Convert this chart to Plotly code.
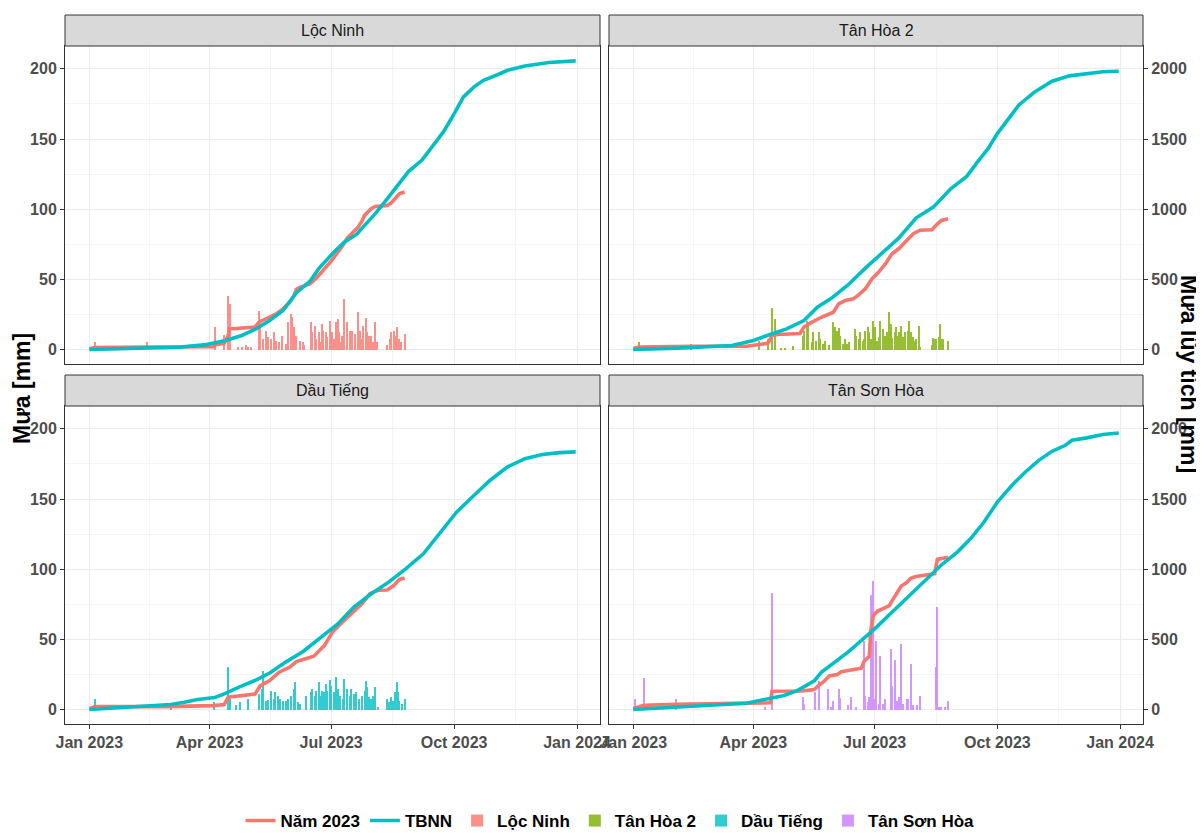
import pandas as pd
import plotly.graph_objects as go

BASE = pd.Timestamp("2023-01-01")

stations = ["Lộc Ninh", "Tân Hòa 2", "Dầu Tiếng", "Tân Sơn Hòa"]
station_colors = ["#F8766D", "#7CAE00", "#00BFC4", "#C77CFF"]
line_names = ["Năm 2023", "TBNN"]
line_colors = ["#F8766D", "#00BFC4"]

# ---- daily rainfall 2023 (day of year from 1 Jan, mm) ----
loc_ninh_rain = [(4,5.7),(43,5.2),(94,16),(101,10.5),(104,38),(105,32.6),(111,1.7),(114,1.7),(117,2.9),(119,1.7),
                 (121,1.7),(127,27.8),(128,20.7),(130,7.6),(132,13.5),(134,8.8),(136,7.6),(138,12.4),(140,6.4),(142,5.2),
                 (144,10),(147,4),(149,19.5),(151,25.4),(152,23),(153,16),(155,10),(158,6.4),(160,5.2),(161,2.9),
                 (166,19.5),(167,12.4),(169,17),(170,7.6),(172,12.4),(173,5.2),(174,18.3),(175,13.5),(177,12.4),(178,8.8),
                 (180,20.7),(182,12.4),(183,7.6),(185,19.5),(186,21.9),(187,12.4),(188,5.2),(189,10),(191,36.1),(193,19.5),
                 (195,13.5),(196,10),(197,13.5),(199,11.2),(201,26.6),(203,13.5),(204,7.6),(205,17),(207,22.4),(208,12.4),
                 (209,10),(210,7.6),(211,10),(212,5.2),(214,19.5),(215,5.2),(223,2.9),(225,7.6),(226,12.4),(228,13.5),
                 (229,10),(230,16),(232,7.6),(233,5.2),(236,11)]
tan_hoa_rain = [(4,5.7),(43,4),(94,6.4),(101,7.6),(104,29.5),(106,21.9),(111,1),(114,1),(120,2.4),(127,10),
                (128,13.5),(130,20.7),(131,19.5),(134,5.2),(135,12.4),(137,6.4),(139,12.8),(140,7.6),(142,4),(144,6.4),
                (147,2.9),(150,19.5),(151,16),(153,13.5),(154,15.2),(155,10),(157,4),(159,7.6),(160,4),(162,5.2),
                (166,14.7),(167,10),(169,7.6),(170,12.4),(172,6.4),(173,7.6),(174,13.5),(176,16),(177,12.4),(178,7.6),
                (180,20),(181,16),(183,6.4),(184,8.8),(185,20.7),(187,14.7),(188,7.6),(189,10),(190,12.4),(192,26.6),
                (193,18.3),(194,8),(196,12.4),(197,16),(198,10),(199,12.4),(201,17),(202,8.8),(204,12.4),(206,13.5),
                (207,20.7),(208,12.4),(210,8.8),(211,6.4),(212,7.6),(214,17),(215,1.7),(224,2.9),(225,8),(226,7.6),
                (227,7.6),(229,8.8),(230,18.3),(231,7.6),(232,7.6),(236,6.4)]
dau_tieng_rain = [(4,7.6),(6,3.3),(61,1.7),(93,5.2),(104,30.2),(105,7.6),(110,2.9),(113,5.2),(119,7.6),(127,11.2),
                  (129,14.7),(130,27.8),(132,6.4),(134,7.1),(136,13.5),(138,7.6),(139,12.4),(141,10),(143,7.6),(145,6.4),
                  (147,6.4),(149,7.6),(151,10),(153,14.7),(154,19.5),(156,5.2),(158,4),(162,10),(166,12.4),(167,14.7),
                  (169,10),(170,13.5),(172,19.5),(173,10),(174,13.5),(176,12.4),(177,18.3),(178,13.5),(180,21.4),(181,17),
                  (183,12.4),(185,23),(186,14.7),(188,10),(190,7.6),(191,21.9),(193,14.7),(195,10),(196,14.7),(198,11.2),
                  (200,12.4),(202,7.6),(204,10),(206,13.5),(207,20),(208,16),(209,8.8),(211,7.6),(212,10),(214,16),
                  (216,1.7),(223,7.6),(224,5.2),(226,8.8),(227,6.4),(229,12.4),(230,19.5),(231,12.4),(232,6.4),(234,4),
                  (236,7.6)]
tan_son_hoa_rain = [(1,7.6),(8,22.4),(32,7.6),(99,1.7),(104,83.2),(127,8.8),(128,4),(136,12.4),(139,20.7),(146,14.7),
                    (148,1.7),(150,6.4),(154,14.3),(155,8),(161,2.9),(163,8.8),(167,1.7),(173,49.2),(174,10),(176,5.2),
                    (177,8.8),(178,81.3),(180,91.3),(181,7.6),(182,48.8),(184,4),(185,38),(187,4),(189,7.6),(193,43.3),
                    (194,16.6),(196,35),(198,6.4),(199,8.8),(201,46.8),(202,4),(205,7.6),(206,7.6),(208,32.6),(210,2.9),
                    (213,2.9),(215,9.3),(227,30.2),(228,73),(229,1.7),(231,1.7),(234,1.7),(236,6.4)]

# ---- cumulative rainfall 2023 (day, mm) ----
loc_ninh_2023 = [(0,5),(4,15),(43,18),(93,20),(94,32),(101,45),(104,100),(105,148),(110,150),(124,160),(127,195),
                 (130,210),(135,230),(140,255),(145,290),(150,338),(153,380),(155,430),(158,445),(162,455),(165,468),
                 (170,510),(176,575),(181,630),(186,694),(190,745),(193,794),(197,830),(201,870),(204,915),(206,956),
                 (209,985),(211,1004),(214,1020),(216,1023),(223,1027),(226,1045),(228,1068),(230,1090),(232,1110),(236,1122)]
tan_hoa_2023 = [(0,5),(4,17),(43,24),(85,24),(92,33),(95,38),(101,45),(104,100),(108,107),(125,114),(128,160),
                (133,190),(141,230),(150,266),(154,326),(159,350),(165,361),(169,390),(174,433),(179,504),(184,552),
                (189,610),(194,683),(199,718),(204,766),(210,825),(215,850),(224,854),(227,885),(231,920),(236,932)]
dau_tieng_2023 = [(0,5),(4,21),(58,21),(93,28),(101,36),(104,88),(124,110),(128,170),(135,207),(142,266),(150,302),
                  (155,342),(160,357),(168,380),(176,457),(182,552),(188,610),(196,683),(204,754),(210,825),(216,850),
                  (223,852),(228,885),(232,927),(236,937)]
tan_son_hoa_2023 = [(0,7),(8,30),(32,38),(98,45),(103,48),(104,130),(126,132),(134,140),(136,145),(139,172),(143,200),
                    (147,240),(153,250),(156,270),(164,285),(171,295),(173,342),(177,380),(178,560),(180,670),(183,700),
                    (186,715),(192,740),(194,775),(197,820),(201,880),(205,905),(208,935),(212,948),(226,968),(228,1070),
                    (236,1085)]

# ---- long-term mean cumulative rainfall TBNN (day, mm) ----
loc_ninh_tbnn = [(0,0),(33,10),(68,17),(86,33),(102,64),(114,100),(124,143),(135,207),(145,278),(155,405),(165,485),
                 (172,580),(178,645),(183,694),(191,766),(200,820),(206,885),(214,968),(221,1051),(229,1146),(234,1206),
                 (239,1270),(249,1350),(257,1455),(265,1551),(271,1646),(275,1717),(280,1800),(288,1872),(295,1919),
                 (306,1960),(313,1990),(326,2021),(344,2045),(364,2057)]
tan_hoa_tbnn = [(0,0),(34,10),(74,29),(90,64),(102,105),(115,147),(128,207),(138,302),(148,361),(161,460),(174,580),
                (187,690),(199,794),(212,937),(225,1015),(238,1146),(250,1234),(258,1336),(266,1431),(273,1539),
                (281,1641),(289,1741),(301,1836),(314,1912),(327,1950),(340,1967),(352,1979),(364,1983)]
dau_tieng_tbnn = [(0,0),(33,17),(61,36),(71,52),(81,71),(94,86),(101,112),(112,160),(124,207),(135,260),(147,338),
                  (160,414),(173,516),(186,610),(198,730),(211,825),(224,908),(237,1004),(250,1110),(262,1253),
                  (275,1408),(288,1527),(300,1634),(313,1729),(326,1788),(339,1817),(352,1831),(364,1836)]
tan_son_hoa_tbnn = [(0,0),(34,17),(59,29),(85,45),(92,59),(102,76),(113,100),(123,135),(130,170),(136,207),(141,266),
                    (151,338),(161,409),(171,492),(181,575),(192,675),(202,766),(212,860),(222,944),(232,1039),
                    (243,1122),(253,1218),(263,1336),(273,1479),(284,1598),(294,1693),(304,1776),(314,1840),(324,1883),
                    (329,1919),(340,1936),(352,1960),(364,1971)]

rain_data = [loc_ninh_rain, tan_hoa_rain, dau_tieng_rain, tan_son_hoa_rain]
obs_data = [loc_ninh_2023, tan_hoa_2023, dau_tieng_2023, tan_son_hoa_2023]
tbnn_data = [loc_ninh_tbnn, tan_hoa_tbnn, dau_tieng_tbnn, tan_son_hoa_tbnn]

left_ticks = [0, 50, 100, 150, 200]
right_ticks = [0, 500, 1000, 1500, 2000]


def to_dates(pairs):
    return [BASE + pd.Timedelta(days=d) for d, _ in pairs], [v for _, v in pairs]


# the page body has an 8px margin, so the figure is placed 8px in from the window corner
OFF = 8
W, H = 1204 - OFF, 833 - OFF
def px_x(p):
    return (p - OFF) / W
def px_y(p):
    return 1 - (p - OFF) / H

col_dom = [(px_x(65), px_x(600)), (px_x(609), px_x(1143))]
row_dom = [(px_y(364), px_y(46)), (px_y(724), px_y(406))]
strip_dom = [(px_y(46), px_y(15)), (px_y(406), px_y(375))]

x_range = [BASE - pd.Timedelta(days=18.2), BASE + pd.Timedelta(days=364 + 18.2)]
y_range = [-10.3, 216.3]
y2_range = [-103, 2163]

FONT = "Liberation Sans, Arial, sans-serif"
tickfont = dict(family=FONT, size=16, color="#4D4D4D", weight="bold")
grid_major = "#EBEBEB"
grid_minor = "#F4F4F4"
minor_x = [BASE + pd.Timedelta(days=d) for d in (45, 135.5, 227, 319)]

fig = go.Figure()
layout = dict(width=W, height=H, margin=dict(l=0, r=0, t=0, b=0, autoexpand=False),
              plot_bgcolor="white", paper_bgcolor="white", bargap=0,
              showlegend=True, shapes=[], annotations=[])

for i, name in enumerate(stations):
    row, col = divmod(i, 2)
    n = i + 1
    xs = "x" if n == 1 else f"x{n}"
    ys = "y" if n == 1 else f"y{n}"
    ys2 = f"y{n + 4}"

    d, v = to_dates(rain_data[i])
    fig.add_trace(go.Bar(x=d, y=v, name=name, xaxis=xs, yaxis=ys, marker_color=station_colors[i],
                         marker_line_width=0, opacity=0.8, width=0.85 * 86400000,
                         legendrank=10 + i, showlegend=True))
    d, v = to_dates(obs_data[i])
    fig.add_trace(go.Scatter(x=d, y=v, mode="lines", name=line_names[0], xaxis=xs, yaxis=ys2,
                             line=dict(color=line_colors[0], width=3.6), legendrank=1,
                             showlegend=(i == 0)))
    d, v = to_dates(tbnn_data[i])
    fig.add_trace(go.Scatter(x=d, y=v, mode="lines", name=line_names[1], xaxis=xs, yaxis=ys2,
                             line=dict(color=line_colors[1], width=3.6), legendrank=2,
                             showlegend=(i == 0)))

    bottom = row == 1
    layout["xaxis" if n == 1 else f"xaxis{n}"] = dict(
        domain=list(col_dom[col]), anchor=ys, range=x_range, type="date",
        dtick="M3", tick0="2023-01-01", tickformat="%b %Y",
        showticklabels=bottom, ticks="outside" if bottom else "", ticklen=4, tickcolor="#333333",
        tickfont=tickfont, showgrid=True, gridcolor=grid_major, gridwidth=1.1,
        minor=dict(tickvals=minor_x, showgrid=True, gridcolor=grid_minor, gridwidth=0.8, ticks=""),
        showline=True, mirror=True, linecolor="#333333", linewidth=1, zeroline=False, automargin=False)
    left = col == 0
    layout["yaxis" if n == 1 else f"yaxis{n}"] = dict(
        domain=list(row_dom[row]), anchor=xs, range=y_range, tickvals=left_ticks,
        showticklabels=left, ticks="outside" if left else "", ticklen=4, tickcolor="#333333",
        tickfont=tickfont, showgrid=True, gridcolor=grid_major, gridwidth=1.1,
        minor=dict(dtick=25, tick0=0, showgrid=True, gridcolor=grid_minor, gridwidth=0.8, ticks=""),
        showline=True, mirror=True, linecolor="#333333", linewidth=1, zeroline=False, automargin=False)
    layout[f"yaxis{n + 4}"] = dict(
        overlaying=ys, anchor=xs, side="right", range=y2_range, tickvals=right_ticks,
        showticklabels=not left, ticks="" if left else "outside", ticklen=4, tickcolor="#333333",
        tickfont=tickfont, showgrid=False, zeroline=False, showline=False, automargin=False)

    # facet strip
    x0, x1 = col_dom[col]
    s0, s1 = strip_dom[row]
    layout["shapes"].append(dict(type="rect", xref="paper", yref="paper", x0=x0, x1=x1, y0=s0, y1=s1,
                                 fillcolor="#D9D9D9", line=dict(color="#333333", width=1), layer="above"))
    layout["annotations"].append(dict(text=name, xref="paper", yref="paper", x=(x0 + x1) / 2, y=(s0 + s1) / 2,
                                      showarrow=False, xanchor="center", yanchor="middle",
                                      font=dict(family=FONT, size=16, color="#1A1A1A")))

layout["annotations"].append(dict(text="<b>Mưa [mm]</b>", xref="paper", yref="paper", x=px_x(22), y=px_y(389),
                                  textangle=-90, showarrow=False, xanchor="center", yanchor="middle",
                                  font=dict(family=FONT, size=23, color="black")))
layout["annotations"].append(dict(text="<b>Mưa lũy tích [mm]</b>", xref="paper", yref="paper", x=px_x(1189),
                                  y=px_y(374), textangle=90, showarrow=False, xanchor="center", yanchor="middle",
                                  font=dict(family=FONT, size=23, color="black")))

layout["legend"] = dict(orientation="h", x=px_x(610), xanchor="center", y=px_y(821), yanchor="middle",
                        font=dict(family=FONT, size=17, color="black", weight="bold"),
                        bgcolor="rgba(0,0,0,0)", itemwidth=30, traceorder="normal")

fig.update_layout(**layout)
fig.write_html("out.html")
